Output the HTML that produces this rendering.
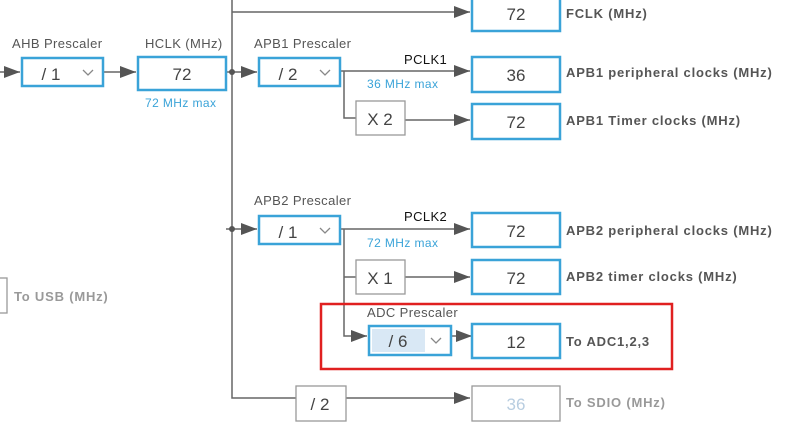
<!DOCTYPE html>
<html><head><meta charset="utf-8"><style>
html,body{margin:0;padding:0;background:#fff;}
svg{display:block;font-family:"Liberation Sans",sans-serif;}
.b{fill:#fff;stroke:#3aa3d8;stroke-width:2.5}
.g{fill:#fff;stroke:#999;stroke-width:1.3}
.l{stroke:#666;stroke-width:1.5;fill:none}
.t{font-size:13px;fill:#555;letter-spacing:0.4px}
.v{font-size:17px;fill:#444;text-anchor:middle}
.lab{font-size:13px;font-weight:bold;fill:#555;letter-spacing:0.8px}
.bl{font-size:12px;fill:#3aa3d8;letter-spacing:0.4px}
.ch{stroke:#888;stroke-width:1.3;fill:none}
</style></head><body>
<svg width="787" height="442" viewBox="0 0 787 442">
<defs>
<marker id="ar" viewBox="0 0 16 12" markerWidth="16" markerHeight="12" refX="16" refY="6" orient="auto" markerUnits="userSpaceOnUse"><path d="M0,0 L16,6 L0,12 z" fill="#555"/></marker></defs>
<path class="l" d="M232,0 V398 H296"/>
<path class="l" d="M232,12 H470" marker-end="url(#ar)"/>
<path class="l" d="M0,72 H20" marker-end="url(#ar)"/>
<path class="l" d="M104,72 H136" marker-end="url(#ar)"/>
<path class="l" d="M226,72 H257" marker-end="url(#ar)"/>
<circle cx="232" cy="72" r="3" fill="#555"/>
<path class="l" d="M340,71 H470" marker-end="url(#ar)"/>
<path class="l" d="M344,71 V118 H356"/>
<path class="l" d="M405,120 H470" marker-end="url(#ar)"/>
<path class="l" d="M226,229 H257" marker-end="url(#ar)"/>
<circle cx="232" cy="229" r="3" fill="#555"/>
<path class="l" d="M340,229 H470" marker-end="url(#ar)"/>
<path class="l" d="M344,229 V336 H367" marker-end="url(#ar)"/>
<path class="l" d="M344,277 H356"/>
<path class="l" d="M405,277 H470" marker-end="url(#ar)"/>
<path class="l" d="M452,336 H472" marker-end="url(#ar)"/>
<path class="l" d="M346,398 H470" marker-end="url(#ar)"/>
<text x="12" y="48" class="t">AHB Prescaler</text>
<rect x="22" y="58" width="81" height="28" class="b"/>
<text x="51" y="80" class="v">/ 1</text>
<path class="ch" d="M83,70 L88,75 L93,70"/>
<text x="145" y="48" class="t">HCLK (MHz)</text>
<rect x="138" y="57" width="88" height="33" class="b"/>
<text x="182" y="80" class="v">72</text>
<text x="145" y="107" class="bl">72 MHz max</text>
<rect x="-5" y="278" width="12" height="35" class="g"/>
<text x="14" y="301" class="lab" style="fill:#999">To USB (MHz)</text>
<text x="254" y="48" class="t">APB1 Prescaler</text>
<rect x="259" y="58" width="81" height="28" class="b"/>
<text x="288" y="80" class="v">/ 2</text>
<path class="ch" d="M320,70 L325,75 L330,70"/>
<text x="404" y="64" style="font-size:13px;fill:#111;letter-spacing:0.4px">PCLK1</text>
<text x="367" y="88" class="bl">36 MHz max</text>
<rect x="356" y="101" width="49" height="34" class="g"/>
<text x="380" y="125" class="v">X 2</text>
<text x="254" y="205" class="t">APB2 Prescaler</text>
<rect x="259" y="216" width="81" height="28" class="b"/>
<text x="288" y="238" class="v">/ 1</text>
<path class="ch" d="M320,228 L325,233 L330,228"/>
<text x="404" y="221" style="font-size:13px;fill:#111;letter-spacing:0.4px">PCLK2</text>
<text x="367" y="247" class="bl">72 MHz max</text>
<rect x="356" y="260" width="49" height="34" class="g"/>
<text x="380" y="284" class="v">X 1</text>
<rect x="321" y="304" width="351" height="65" fill="none" stroke="#e02020" stroke-width="2.5"/>
<text x="367" y="317" class="t">ADC Prescaler</text>
<rect x="369" y="326" width="82" height="29" class="b"/>
<rect x="372" y="329" width="53" height="23" fill="#d9e8f5"/>
<text x="398" y="347" class="v">/ 6</text>
<path class="ch" d="M431,338 L436,343 L441,338"/>
<rect x="296" y="386" width="50" height="35" class="g"/>
<text x="320" y="410" class="v">/ 2</text>
<rect x="472" y="-5" width="88" height="36" class="b"/>
<text x="516" y="20" class="v">72</text>
<text x="566" y="18" class="lab">FCLK (MHz)</text>
<rect x="472" y="57" width="88" height="35" class="b"/>
<text x="516" y="81" class="v">36</text>
<text x="566" y="77" class="lab">APB1 peripheral clocks (MHz)</text>
<rect x="472" y="104" width="88" height="35" class="b"/>
<text x="516" y="128" class="v">72</text>
<text x="566" y="125" class="lab">APB1 Timer clocks (MHz)</text>
<rect x="472" y="213" width="88" height="34" class="b"/>
<text x="516" y="237" class="v">72</text>
<text x="566" y="235" class="lab">APB2 peripheral clocks (MHz)</text>
<rect x="472" y="260" width="88" height="34" class="b"/>
<text x="516" y="284" class="v">72</text>
<text x="566" y="281" class="lab">APB2 timer clocks (MHz)</text>
<rect x="472" y="324" width="88" height="34" class="b"/>
<text x="516" y="348" class="v">12</text>
<text x="566" y="346" class="lab">To ADC1,2,3</text>
<rect x="472" y="386" width="88" height="35" class="g"/>
<text x="516" y="410" class="v" style="fill:#b8cde0">36</text>
<text x="566" y="407" class="lab" style="fill:#999">To SDIO (MHz)</text>
</svg>
</body></html>
